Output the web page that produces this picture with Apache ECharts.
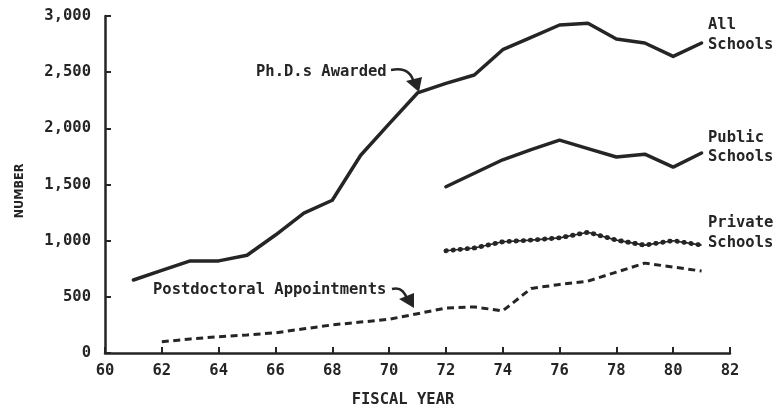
<!DOCTYPE html>
<html>
<head>
<meta charset="utf-8">
<script src="https://cdn.jsdelivr.net/npm/echarts@6/dist/echarts.min.js"></script>
<style>
html,body{margin:0;padding:0;background:#fff;}
#chart{width:775px;height:410px;}
</style>
</head>
<body>
<div id="chart"></div>
<script>
// ---- data ----
const allYears = [61,62,63,64,65,66,67,68,69,70,71,72,73,74,75,76,77,78,79,80,81];
const allValues = [650,735,820,820,870,1050,1245,1360,1760,2040,2315,2400,2475,2700,2810,2920,2935,2795,2760,2640,2760];

const splitYears = [72,73,74,75,76,77,78,79,80,81];
const publicValues = [1480,1600,1720,1810,1895,1820,1745,1770,1655,1780];
const privateValues = [910,935,990,1005,1025,1075,1005,960,1000,960];

const postdocYears = [62,63,64,65,66,67,68,69,70,71,72,73,74,75,76,77,78,79,80,81];
const postdocValues = [100,125,145,160,180,215,250,275,300,350,400,410,375,575,610,640,720,800,765,730];

const xTicks = [60,62,64,66,68,70,72,74,76,78,80,82];
const yTicks = [0,500,1000,1500,2000,2500,3000];

const seriesLabels = {
  phd: 'Ph.D.s Awarded',
  postdoc: 'Postdoctoral Appointments',
  all: ['All', 'Schools'],
  pub: ['Public', 'Schools'],
  priv: ['Private', 'Schools'],
  xName: 'FISCAL YEAR',
  yName: 'NUMBER'
};

const pair = (xs, ys) => xs.map((x, i) => [x, ys[i]]);

const INK = '#252525';
const MONO = 'DejaVu Sans Mono';
const txt = (s, x, y, align) => ({
  type: 'text', x: x, y: y, silent: true,
  style: { text: s, fill: INK, font: 'bold 15.5px "' + MONO + '"',
           textAlign: align || 'left', textVerticalAlign: 'middle' }
});

const chart = echarts.init(document.getElementById('chart'));
chart.setOption({
  animation: false,
  backgroundColor: '#fff',
  grid: { left: 105, right: 45, top: 16, bottom: 57 },
  xAxis: {
    type: 'value', min: xTicks[0], max: xTicks[xTicks.length-1], interval: 2,
    axisLine: { show: true, lineStyle: { color: INK, width: 2.5 } },
    axisTick: { show: true, inside: true, length: 6, lineStyle: { color: INK, width: 2 } },
    axisLabel: { color: INK, fontFamily: MONO, fontWeight: 'bold', fontSize: 15.5, margin: 10 },
    splitLine: { show: false }
  },
  yAxis: {
    type: 'value', min: yTicks[0], max: yTicks[yTicks.length-1], interval: 500,
    axisLine: { show: true, lineStyle: { color: INK, width: 2.5 } },
    axisTick: { show: true, inside: true, length: 6, lineStyle: { color: INK, width: 2 } },
    axisLabel: { color: INK, fontFamily: MONO, fontWeight: 'bold', fontSize: 15.5, margin: 14,
                 formatter: v => v.toLocaleString('en-US') },
    splitLine: { show: false }
  },
  series: [
    { name: 'All Schools', type: 'line', data: pair(allYears, allValues), symbol: 'none',
      lineStyle: { color: INK, width: 3.5, join: 'round', cap: 'round' } },
    { name: 'Public Schools', type: 'line', data: pair(splitYears, publicValues), symbol: 'none',
      lineStyle: { color: INK, width: 3.5, join: 'round', cap: 'round' } },
    { name: 'Private Schools', type: 'line', data: pair(splitYears, privateValues), symbol: 'none',
      lineStyle: { color: INK, width: 1.6 } },
    { name: 'Private Schools dots', type: 'line', data: pair(splitYears, privateValues), symbol: 'none',
      lineStyle: { color: INK, width: 4.8, type: [0.5, 6.6], cap: 'round' } },
    { name: 'Postdoctoral Appointments', type: 'line', data: pair(postdocYears, postdocValues), symbol: 'none',
      lineStyle: { color: INK, width: 3, type: [7, 4.5] } }
  ],
  graphic: [
    txt(seriesLabels.phd, 256, 72),
    txt(seriesLabels.postdoc, 153, 290),
    txt(seriesLabels.all[0], 708, 25),
    txt(seriesLabels.all[1], 708, 45),
    txt(seriesLabels.pub[0], 708, 138),
    txt(seriesLabels.pub[1], 708, 157),
    txt(seriesLabels.priv[0], 708, 223),
    txt(seriesLabels.priv[1], 708, 243),
    txt(seriesLabels.xName, 403, 400, 'center'),
    { type: 'text', x: 20, y: 191, rotation: Math.PI / 2, silent: true,
      style: { text: seriesLabels.yName, fill: INK,
               font: 'bold 12.5px "DejaVu Sans Condensed"',
               textAlign: 'center', textVerticalAlign: 'middle' } },
    { type: 'bezierCurve', silent: true,
      shape: { x1: 391, y1: 70, x2: 414, y2: 83, cpx1: 410, cpy1: 66 },
      style: { stroke: INK, lineWidth: 2.5, fill: null } },
    { type: 'polygon', silent: true,
      shape: { points: [[406, 81], [422, 77], [419, 92]] },
      style: { fill: INK } },
    { type: 'bezierCurve', silent: true,
      shape: { x1: 392, y1: 289, x2: 407, y2: 299, cpx1: 403, cpy1: 286 },
      style: { stroke: INK, lineWidth: 2.5, fill: null } },
    { type: 'polygon', silent: true,
      shape: { points: [[399, 299], [414, 293], [414, 308]] },
      style: { fill: INK } }
  ]
});
</script>
</body>
</html>
